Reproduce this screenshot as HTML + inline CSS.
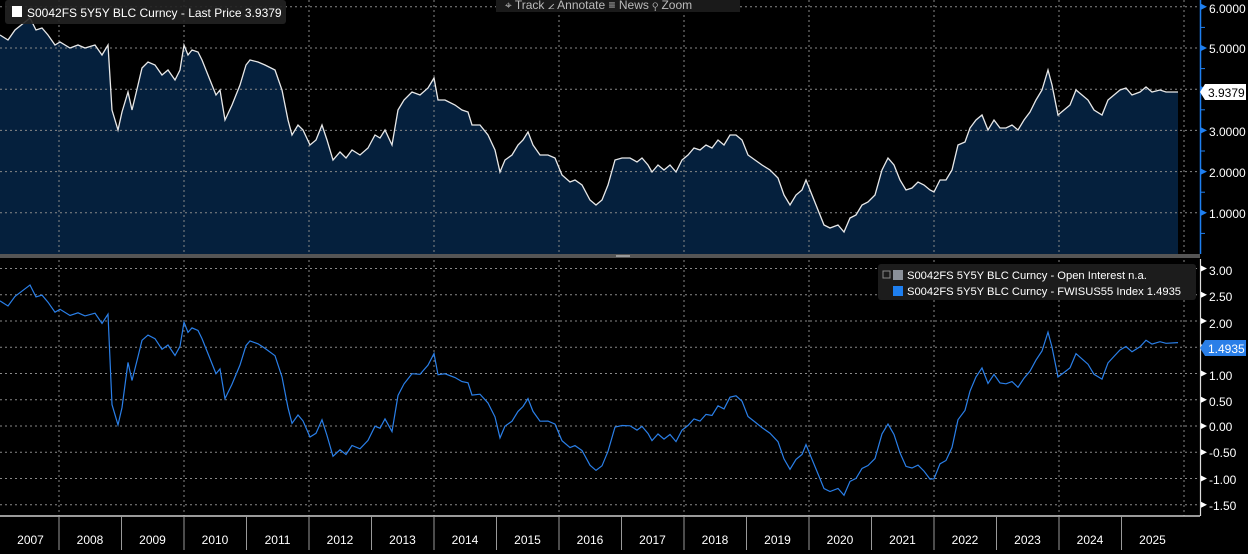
<!DOCTYPE html>
<html><head><meta charset="utf-8"><style>
html,body{margin:0;padding:0;background:#000;width:1248px;height:554px;overflow:hidden;font-family:"Liberation Sans",sans-serif;}
svg{display:block}
text{font-family:"Liberation Sans",sans-serif;}
</style></head><body>
<svg id="s" width="1248" height="554" xmlns="http://www.w3.org/2000/svg">
<rect width="1248" height="554" fill="#000"/>
<path id="topfill" fill="#05203d" stroke="none"/>
<g id="grid" stroke="#888" stroke-width="1" stroke-dasharray="2,3" fill="none"></g>
<path id="topline" fill="none" stroke="#e8e8e8" stroke-width="1.3"/>
<path id="botline" fill="none" stroke="#2a7fe8" stroke-width="1.2"/>
<rect x="0" y="254" width="1200" height="4" fill="#555"/>
<rect x="616" y="255" width="14" height="2" fill="#999"/>
<line x1="1200.5" y1="0" x2="1200.5" y2="254" stroke="#1e7ff0" stroke-width="1.5"/>
<line x1="1200.5" y1="259" x2="1200.5" y2="516" stroke="#ddd" stroke-width="1.2"/>
<g id="ticks"></g>
<g font-size="12" fill="#fff">
<text x="1209" y="13">6.0000</text>
<text x="1209" y="53">5.0000</text>
<text x="1209" y="136">3.0000</text>
<text x="1209" y="177">2.0000</text>
<text x="1209" y="218">1.0000</text>
<text x="1209" y="275">3.00</text>
<text x="1209" y="301">2.50</text>
<text x="1209" y="328">2.00</text>
<text x="1209" y="380">1.00</text>
<text x="1209" y="406">0.50</text>
<text x="1209" y="431">0.00</text>
<text x="1209" y="457">-0.50</text>
<text x="1209" y="484">-1.00</text>
<text x="1209" y="510">-1.50</text>
</g>
<polygon points="1200,92 1205,84 1246,84 1246,100 1205,100" fill="#fff"/>
<text x="1208" y="97" font-size="12" fill="#000">3.9379</text>
<polygon points="1200,348 1205,340 1246,340 1246,356 1205,356" fill="#2a7fe8"/>
<text x="1208" y="353" font-size="12" fill="#fff">1.4935</text>
<rect x="5" y="0" width="281" height="24" rx="3" fill="#222" opacity="0.9"/>
<rect x="12" y="6" width="10" height="11" fill="#fff"/>
<text x="27" y="17" font-size="12" fill="#fff">S0042FS 5Y5Y BLC Curncy - Last Price 3.9379</text>
<rect x="496" y="0" width="244" height="12" fill="#1a1a1a"/>
<text x="505" y="9" font-size="12" fill="#bbb">⌖ Track   ∠ Annotate   ≡ News   ⚲ Zoom</text>
<rect x="878" y="264" width="318" height="36" rx="3" fill="#1c1c1c"/>
<rect x="883" y="271" width="7" height="7" fill="none" stroke="#888"/>
<rect x="893" y="270" width="10" height="10" fill="#8a9099"/>
<text x="907" y="279" font-size="11.2" fill="#fff">S0042FS 5Y5Y BLC Curncy - Open Interest    n.a.</text>
<rect x="893" y="286" width="10" height="10" fill="#1e7ff0"/>
<text x="907" y="295" font-size="11.2" fill="#fff">S0042FS 5Y5Y BLC Curncy - FWISUS55 Index 1.4935</text>
<line x1="0" y1="516" x2="1200" y2="516" stroke="#ccc" stroke-width="1.5"/>
<g id="xax" font-size="12" fill="#fff" text-anchor="middle"></g>
</svg>
<script>
var T=[[0,35],[8,40],[15,30],[25,22],[30,18],[36,30],[42,28],[48,35],[55,45],[60,42],[70,48],[78,45],[85,48],[95,45],[102,55],[108,45],[112,110],[118,130],[122,112],[128,92],[132,110],[138,85],[142,68],[148,62],[155,65],[162,75],[168,70],[175,80],[180,70],[184,45],[188,55],[192,50],[198,52],[202,60],[210,80],[216,95],[220,90],[225,120],[232,105],[240,85],[246,65],[250,60],[258,62],[265,65],[275,70],[282,90],[288,120],[292,135],[298,125],[303,130],[310,145],[316,140],[322,125],[327,140],[333,160],[340,152],[346,158],[352,150],[360,155],[368,148],[375,135],[380,138],[385,130],[392,145],[398,110],[404,100],[412,92],[420,95],[428,88],[434,78],[438,100],[445,100],[455,105],[462,110],[468,112],[472,125],[480,125],[488,135],[495,150],[500,172],[505,160],[512,155],[518,145],[523,140],[528,132],[533,145],[540,155],[548,155],[555,158],[562,175],[570,182],[575,180],[582,185],[590,200],[596,205],[602,200],[608,185],[615,160],[622,158],[630,158],[637,162],[642,158],[648,165],[652,172],[658,165],[664,170],[670,165],[676,172],[682,160],[688,155],[694,148],[700,150],[706,145],[712,148],[718,140],[724,145],[730,135],[736,135],[742,140],[748,155],[755,160],[762,165],[770,170],[778,178],[784,195],[790,205],[796,195],[802,190],[806,180],[812,195],[818,210],[824,225],[830,228],[838,225],[844,232],[850,218],[856,215],[862,205],[868,202],[875,195],[882,170],[888,158],[894,165],[900,180],[906,190],[912,188],[918,182],[924,185],[930,190],[934,192],[940,180],[946,180],[952,170],[958,145],[965,142],[970,128],[976,120],[982,115],[988,130],[994,120],[1000,128],[1006,128],[1012,125],[1018,130],[1024,120],[1030,112],[1036,100],[1042,90],[1048,70],[1052,85],[1058,115],[1064,110],[1070,105],[1076,90],[1082,95],[1088,100],[1094,110],[1102,115],[1108,100],[1114,95],[1120,90],[1126,88],[1132,95],[1140,92],[1146,87],[1152,92],[1160,90],[1166,92],[1178,92]];
var C=[[0,0.05],[100,0],[200,-0.2],[255,-0.25],[300,-0.45],[340,-0.6],[380,-0.45],[434,-0.15],[500,0],[590,0],[700,-0.1],[735,0.1],[790,0],[885,0],[910,-0.3],[930,-0.5],[960,-0.2],[980,0.2],[1048,0],[1100,-0.1],[1150,0.1],[1178,0.1]];
function corr(x){for(var i=0;i<C.length-1;i++){if(x>=C[i][0]&&x<=C[i+1][0]){var t=(x-C[i][0])/(C[i+1][0]-C[i][0]);return C[i][1]+t*(C[i+1][1]-C[i][1]);}}return 0;}
var d="M"+T.map(p=>p[0]+","+p[1]).join(" L");
document.getElementById('topline').setAttribute('d',d);
document.getElementById('topfill').setAttribute('d',d+" L1178,254 L0,254 Z");
var B=T.map(function(p){var v=(254-p[1])/41.2;var f=p[0]/1178;var b=0.77*v-1.76+0.22*Math.pow(f,6)+corr(p[0]);if(p[0]>=112&&p[0]<=122)b-=0.5;return [p[0],(426-52.5*b).toFixed(1)];});
document.getElementById('botline').setAttribute('d',"M"+B.map(p=>p[0]+","+p[1]).join(" L"));
var g=document.getElementById('grid'),h='';
[1,2,3,4,5,6].forEach(function(v){var y=254-41.2*v;h+='<line x1="0" y1="'+y+'" x2="1200" y2="'+y+'"/>';});
for(var b=-1.5;b<=3;b+=0.5){var y=426-52.5*b;h+='<line x1="0" y1="'+y+'" x2="1200" y2="'+y+'"/>';}
for(var i=0;i<10;i++){var x=59+125*i;h+='<line x1="'+x+'" y1="0" x2="'+x+'" y2="516"/>';}
g.innerHTML=h;
var tk='';
[1,2,3,4,5,6].forEach(function(v){var y=254-41.2*v;tk+='<polygon points="1201,'+(y-3)+' 1207,'+y+' 1201,'+(y+3)+'" fill="#1e7ff0"/>';var y2=y+20.6;tk+='<line x1="1201" y1="'+y2+'" x2="1205" y2="'+y2+'" stroke="#1e7ff0"/>';});
for(var b=-1.5;b<=3;b+=0.5){var y=426-52.5*b;tk+='<polygon points="1201,'+(y-3)+' 1207,'+y+' 1201,'+(y+3)+'" fill="#fff"/>';}
document.getElementById('ticks').innerHTML=tk;
var xs='';
for(var i=0;i<19;i++){var x0=-3.5+62.5*i;var xb=x0+62.5;if(i<18)xs+='<line x1="'+xb+'" y1="516" x2="'+xb+'" y2="550" stroke="#999"/>';xs+='<text x="'+(x0+31+(i==0?3:0))+'" y="544">'+(2007+i)+'</text>';}
document.getElementById('xax').innerHTML=xs;
</script>
</body></html>
